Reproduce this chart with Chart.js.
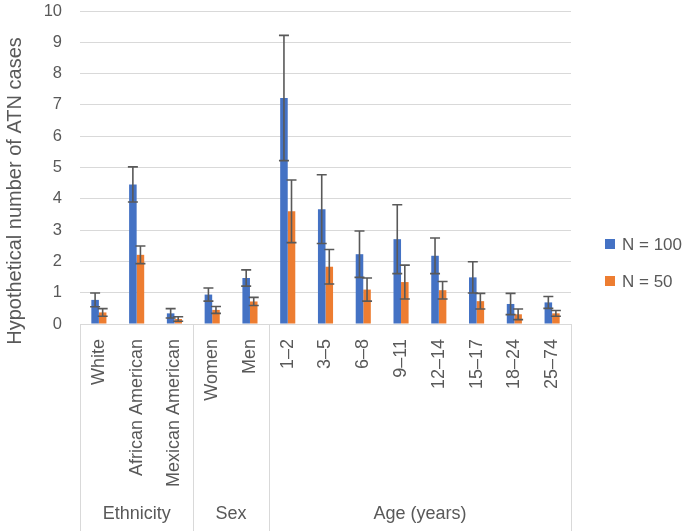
<!DOCTYPE html>
<html>
<head>
<meta charset="utf-8">
<script src="https://cdn.jsdelivr.net/npm/chart.js@4/dist/chart.umd.min.js"></script>
<style>
  html, body { margin: 0; padding: 0; background: #fff; }
  #wrap { position: relative; width: 685px; height: 531px; }
</style>
</head>
<body>
<div id="wrap"><canvas id="chart"></canvas></div>
<script>
const categories = ["White", "African American", "Mexican American", "Women", "Men",
  "1–2", "3–5", "6–8", "9–11", "12–14", "15–17", "18–24", "25–74"];
const groupLabels = ["Ethnicity", "Sex", "Age (years)"];
const groupSizes = [3, 2, 8];

const n100 = [0.77, 4.46, 0.34, 0.94, 1.47, 7.22, 3.67, 2.23, 2.71, 2.18, 1.49, 0.64, 0.69];
const n100Err = [0.22, 0.56, 0.15, 0.21, 0.26, 2.0, 1.1, 0.74, 1.1, 0.57, 0.5, 0.34, 0.19];
const n50 = [0.37, 2.21, 0.16, 0.45, 0.72, 3.6, 1.83, 1.1, 1.34, 1.08, 0.73, 0.31, 0.34];
const n50Err = [0.12, 0.28, 0.07, 0.11, 0.13, 1.0, 0.55, 0.37, 0.54, 0.28, 0.25, 0.17, 0.09];

const yTitle = "Hypothetical number of ATN cases";

const FONT = "'Liberation Sans', Arial, sans-serif";
const TEXT = "#595959";
const LINE = "#d9d9d9";

// --- Error bars drawn from the bar elements ---
const errorBars = {
  id: "errorBars",
  afterDatasetsDraw(chart) {
    const ctx = chart.ctx;
    const y = chart.scales.y;
    ctx.save();
    ctx.strokeStyle = "#595959";
    ctx.lineWidth = 1.6;
    chart.data.datasets.forEach((ds, di) => {
      const meta = chart.getDatasetMeta(di);
      meta.data.forEach((bar, i) => {
        const v = ds.data[i];
        const e = ds.errors[i];
        const top = y.getPixelForValue(v + e);
        const bot = y.getPixelForValue(Math.max(0, v - e));
        const x = bar.x;
        ctx.beginPath();
        ctx.moveTo(x, top); ctx.lineTo(x, bot);
        ctx.moveTo(x - 5, top); ctx.lineTo(x + 5, top);
        ctx.moveTo(x - 5, bot); ctx.lineTo(x + 5, bot);
        ctx.stroke();
      });
    });
    ctx.restore();
  },
};

// --- Group separators, group labels, axis title and legend ---
const groupAxis = {
  id: "groupAxis",
  afterDraw(chart) {
    const ctx = chart.ctx;
    const x = chart.scales.x;
    const area = chart.chartArea;
    const bottom = chart.height;
    ctx.save();
    ctx.strokeStyle = LINE;
    ctx.lineWidth = 1;
    let start = 0;
    const edges = [x.getPixelForValue(-0.5)];
    groupSizes.forEach((n) => {
      start += n;
      edges.push(x.getPixelForValue(start - 0.5));
    });
    edges.forEach((px) => {
      const p = Math.round(px) + 0.5;
      ctx.beginPath();
      ctx.moveTo(p, area.bottom);
      ctx.lineTo(p, bottom);
      ctx.stroke();
    });
    ctx.fillStyle = TEXT;
    ctx.font = "18px " + FONT;
    ctx.textAlign = "center";
    ctx.textBaseline = "middle";
    groupLabels.forEach((g, i) => {
      ctx.fillText(g, (edges[i] + edges[i + 1]) / 2, 514);
    });

    // y axis title
    ctx.save();
    ctx.translate(21, 191);
    ctx.rotate(-Math.PI / 2);
    ctx.font = "20px " + FONT;
    ctx.textBaseline = "alphabetic";
    ctx.fillText(yTitle, 0, 0);
    ctx.restore();

    // legend
    ctx.font = "17px " + FONT;
    ctx.textBaseline = "middle";
    const lx = area.right + 34;
    chart.data.datasets.forEach((ds, i) => {
      const ly = 244 + i * 37;
      ctx.fillStyle = ds.backgroundColor;
      ctx.fillRect(lx, ly - 5, 10, 10);
      ctx.fillStyle = TEXT;
      ctx.textAlign = "left";
      ctx.fillText(ds.label, lx + 17, ly + 1);
    });
    ctx.restore();
  },
};

new Chart(document.getElementById("chart"), {
  type: "bar",
  data: {
    labels: categories,
    datasets: [
      { label: "N = 100", data: n100, errors: n100Err, backgroundColor: "#4472C4" },
      { label: "N = 50", data: n50, errors: n50Err, backgroundColor: "#ED7D31" },
    ],
  },
  options: {
    responsive: true,
    maintainAspectRatio: false,
    animation: false,
    layout: { padding: { left: 0, right: 114, top: 11, bottom: 0 } },
    datasets: { bar: { categoryPercentage: 0.4, barPercentage: 1 } },
    plugins: { legend: { display: false }, tooltip: { enabled: false } },
    scales: {
      x: {
        grid: { display: false },
        border: { color: LINE },
        ticks: {
          autoSkip: false, minRotation: 90, maxRotation: 90, padding: 7,
          color: TEXT, font: { family: FONT, size: 18 },
        },
        afterFit(scale) {
          scale.height = 207;
          scale.paddingLeft = 0;
          scale.paddingRight = 0;
        },
      },
      y: {
        min: 0, max: 10,
        grid: { color: LINE, drawTicks: false },
        border: { display: false },
        ticks: { stepSize: 1, padding: 18, color: TEXT, font: { family: FONT, size: 16.5 } },
        afterFit(scale) {
          scale.width = 80;
          scale.paddingTop = 0;
          scale.paddingBottom = 0;
        },
      },
    },
  },
  plugins: [errorBars, groupAxis],
});
</script>
</body>
</html>
